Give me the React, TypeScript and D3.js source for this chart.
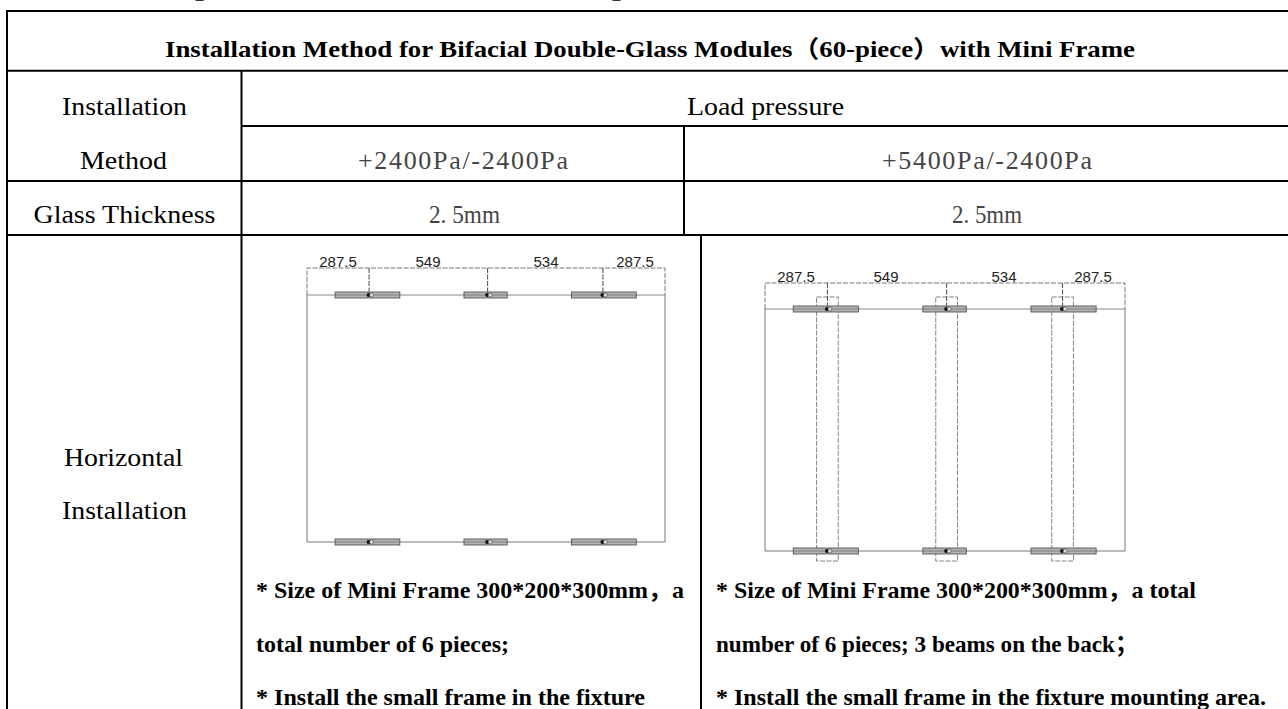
import React from "react";
import * as d3 from "d3";

const W = 1288, H = 709;
const spans = [287.5, 549, 534, 287.5];
const spanLabels = ["287.5", "549", "534", "287.5"];
const labelOffsets = [31, 121, 239, 328];
const clampStarts = [130, 727, 1225];
const clampLengths = [300, 200, 300];
const beamHalfWidth = 50;

const serif = "'Liberation Serif', 'Noto Sans CJK SC', serif";
const sans = "'Liberation Sans', sans-serif";

const cum = [0, ...d3.cumsum(spans)];
const total = cum[cum.length - 1];
const stems = cum.slice(1, -1);

function T({ x, y, s, w, fs = 25, weight = "normal", fam = serif, fill = "#000", adjust = "spacingAndGlyphs" }: any) {
  return (
    <text x={x} y={y} fontFamily={fam} fontSize={fs} fontWeight={weight} fill={fill} lang="zh-CN"
      textLength={w} lengthAdjust={w ? adjust : undefined}>{s}</text>
  );
}

function Drawing({ x0, x1, yDim, yTop, yBot, beams }: any) {
  const x = d3.scaleLinear().domain([0, total]).range([x0, x1]);
  const dash = "5 1.5";
  const c = "#555";
  return (
    <g fill="none">
      <path d={`M${x0},${yTop}V${yBot}H${x1}V${yTop}`} stroke="#777" strokeWidth={1} />
      <path d={`M${x0},${yTop}H${x1}`} stroke="#888" strokeWidth={1} />
      <path d={`M${x0},${yTop}V${yDim}H${x1}V${yTop}`} stroke={c} strokeWidth={0.8} strokeDasharray={dash} />
      {spanLabels.map((s, i) => (
        <text key={i} x={x0 + labelOffsets[i]} y={yDim - 1} textAnchor="middle" fontFamily={sans} fontSize={15} fill="#222">{s}</text>
      ))}
      {beams && stems.map((m, i) => (
        <rect key={i} x={x(m - beamHalfWidth)} y={yDim + 14} width={x(m + beamHalfWidth) - x(m - beamHalfWidth)} height={yBot + 10 - yDim - 14}
          stroke="#666" strokeWidth={0.8} strokeDasharray={dash} />
      ))}
      {stems.map((m, i) => (
        <path key={i} d={`M${x(m)},${yDim}V${yTop}`} stroke="#333" strokeWidth={0.9} strokeDasharray={dash} />
      ))}
      {[yTop, yBot].map((y) => clampStarts.map((st, i) => (
        <g key={`${y}-${i}`}>
          <rect x={x(st)} y={y - 3} width={x(st + clampLengths[i]) - x(st)} height={6} fill="#b5b5b5" stroke="#444" strokeWidth={0.8} />
          <path d={`M${x(st)},${y}H${x(st + clampLengths[i])}`} stroke="#666" strokeWidth={0.7} />
          <circle cx={x(stems[i]) - 0.5} cy={y} r={2} fill="#111" />
          <circle cx={x(stems[i]) + 2.5} cy={y} r={2} fill="#ddd" stroke="#333" strokeWidth={0.5} />
        </g>
      )))}
    </g>
  );
}

export default function App() {
  const lines = [
    "M6,11H1288", "M7,70.7H1288", "M241.5,126H1288", "M7,181H1288", "M7,235H1288",
    "M7,10V709", "M241.5,70.7V709", "M684,126V235", "M701,235V709",
  ];
  const gray = "#444";
  const bodyLeft = 256, bodyRight = 716;
  return (
    <svg width={W} height={H} style={{ position: "fixed", left: 0, top: 0, background: "#fff" }}>
      <T x={178} y={-2} s="【Installation Method for Mini Frame】" w={460} fs={24} weight="bold" />
      <path d={lines.join("")} stroke="#000" strokeWidth={2} fill="none" />
      <T x={165} y={57} s="Installation Method for Bifacial Double-Glass Modules（60-piece）with Mini Frame" w={970} fs={24} weight="bold" />
      <T x={62} y={115} s="Installation" fs={26} w={125} />
      <T x={80} y={169} s="Method" fs={26} w={87} />
      <T x={33.5} y={223} s="Glass Thickness" fs={26} w={182} />
      <T x={64} y={466} s="Horizontal" fs={26} w={119} />
      <T x={62} y={519} s="Installation" fs={26} w={125} />
      <T x={687} y={115} s="Load pressure" fs={26} w={157} />
      <T x={358} y={169} s="+2400Pa/-2400Pa" fs={26} w={210} fill={gray} adjust="spacing" />
      <T x={882} y={169} s="+5400Pa/-2400Pa" fs={26} w={210} fill={gray} adjust="spacing" />
      <T x={429} y={223} s="2. 5mm" fs={26} w={71} fill={gray} />
      <T x={952} y={223} s="2. 5mm" fs={26} w={70} fill={gray} />
      <Drawing x0={307} x1={665} yDim={268} yTop={295} yBot={542} beams={false} />
      <Drawing x0={765} x1={1125} yDim={283} yTop={309} yBot={551} beams={true} />
      <T x={bodyLeft} y={598} s="* Size of Mini Frame 300*200*300mm，a" weight="bold" fs={24} w={428} />
      <T x={bodyLeft} y={652} s="total number of 6 pieces;" weight="bold" fs={24} w={253} />
      <T x={bodyLeft} y={705} s="* Install the small frame in the fixture" weight="bold" fs={24} w={389} />
      <T x={bodyRight} y={598} s="* Size of Mini Frame 300*200*300mm，a total" weight="bold" fs={24} w={480} />
      <T x={bodyRight} y={652} s="number of 6 pieces; 3 beams on the back；" weight="bold" fs={24} w={422} />
      <T x={bodyRight} y={705} s="* Install the small frame in the fixture mounting area." weight="bold" fs={24} w={550} />
    </svg>
  );
}
